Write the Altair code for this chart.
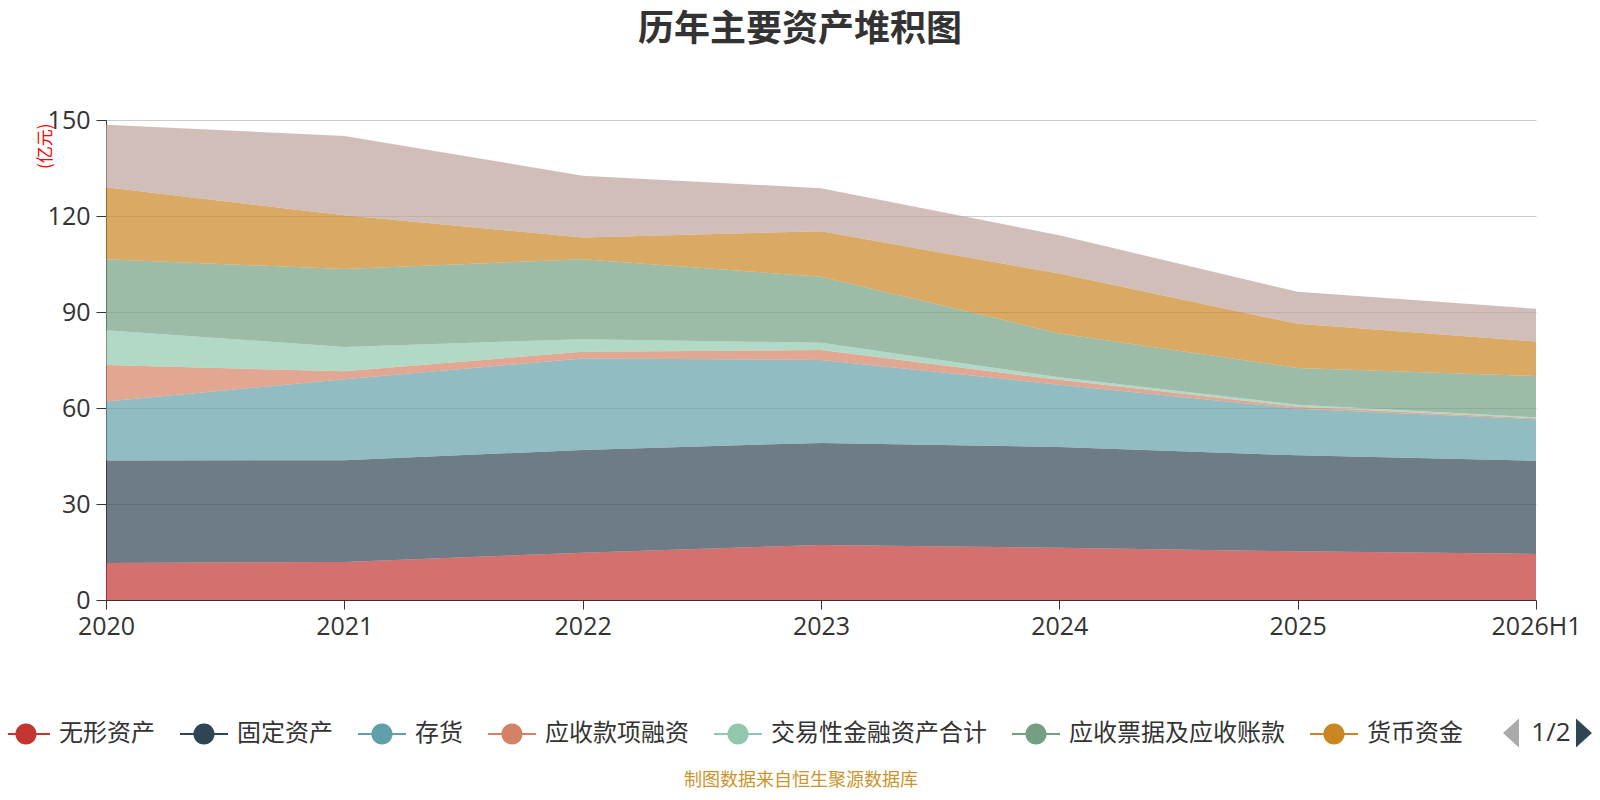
import altair as alt
import pandas as pd

years = ["2020", "2021", "2022", "2023", "2024", "2025", "2026H1"]
names = ["无形资产", "固定资产", "存货", "应收款项融资", "交易性金融资产合计",
         "应收票据及应收账款", "货币资金", "其他资产"]
colors = ["#c23531", "#2f4554", "#61a0a8", "#d48265", "#91c7ae",
          "#749f83", "#ca8622", "#bda29a"]

intangible = [11.6, 11.9, 14.8, 17.2, 16.3, 15.2, 14.4]
fixed = [32.0, 31.8, 32.1, 31.9, 31.5, 30.0, 29.1]
inventory = [18.4, 25.3, 28.6, 25.9, 19.5, 14.6, 13.0]
financing = [11.4, 2.5, 2.1, 3.1, 1.5, 0.6, 0.3]
trading = [10.9, 7.6, 3.9, 2.3, 0.8, 0.6, 0.3]
receivables = [22.2, 24.3, 25.0, 20.6, 13.7, 11.5, 12.9]
cash = [22.5, 16.8, 6.8, 14.2, 18.7, 13.8, 10.8]
other = [19.5, 24.8, 19.3, 13.5, 12.0, 10.0, 10.2]

series = [intangible, fixed, inventory, financing, trading, receivables, cash, other]
y_ticks = [0, 30, 60, 90, 120, 150]

title_text = "历年主要资产堆积图"
unit_text = "(亿元)"
footer_text = "制图数据来自恒生聚源数据库"
page_text = "1/2"

rows = []
for i, (nm, vals) in enumerate(zip(names, series)):
    for yr, v in zip(years, vals):
        rows.append({"year": yr, "name": nm, "value": v, "idx": i})
df = pd.DataFrame(rows)

FONT = "Noto Sans CJK SC"
NUM_FONT = "Open Sans"
sym_path = ("M-1,-0.045L1,-0.045L1,0.045L-1,0.045Z "
            "M0.44,0A0.44,0.44 0 1,1 -0.44,0A0.44,0.44 0 1,1 0.44,0Z")

area = alt.Chart(df).mark_area(opacity=0.7).encode(
    x=alt.X("year:O", sort=years, scale=alt.Scale(type="point", padding=0),
            axis=alt.Axis(title=None, labelAngle=0, labelFontSize=25, labelColor="#333333",
                          labelFont=NUM_FONT, domainColor="#333333", domainWidth=1,
                          tickColor="#333333", tickSize=9, tickWidth=1,
                          labelPadding=5, grid=False)),
    y=alt.Y("value:Q", stack="zero", scale=alt.Scale(domain=[0, 150], nice=False),
            axis=alt.Axis(values=y_ticks, title=unit_text, titleColor="#ff0000",
                          titleFontSize=17, titleFontWeight="normal", titleFont=FONT,
                          titleAngle=270, titleAlign="right", titleBaseline="middle",
                          titleX=-61, titleY=3,
                          labelFontSize=25, labelColor="#333333", labelFont=NUM_FONT,
                          labelPadding=6, domainColor="#333333", domainWidth=1,
                          tickColor="#333333", tickSize=10, tickWidth=1,
                          gridColor="#cccccc", gridWidth=1)),
    color=alt.Color("name:N", sort=names,
                    scale=alt.Scale(domain=names, range=colors),
                    legend=alt.Legend(title=None, orient="none", direction="horizontal",
                                      legendX=-104, legendY=590, values=names[:7],
                                      symbolType=sym_path, symbolSize=2304,
                                      symbolOpacity=1, symbolStrokeWidth=0,
                                      labelFontSize=24, labelFont=FONT,
                                      labelColor="#333333", labelOffset=9,
                                      columnPadding=25, labelLimit=400)),
    order=alt.Order("idx:Q", sort="ascending"),
)

footer = alt.Chart(pd.DataFrame({"t": [footer_text]})).mark_text(
    fontSize=18, font=FONT, color="#c9952b", align="center", baseline="middle"
).encode(text="t:N", x=alt.value(695), y=alt.value(661))

pager = alt.Chart(pd.DataFrame({"t": [page_text]})).mark_text(
    fontSize=26, font=NUM_FONT, color="#333333", align="center", baseline="middle"
).encode(text="t:N", x=alt.value(1445), y=alt.value(613))

tri_left = alt.Chart(pd.DataFrame({"t": [0]})).mark_point(
    shape="M0.55,-1L-0.55,0L0.55,1Z", size=840, filled=True, color="#aaaaaa", opacity=1
).encode(x=alt.value(1405), y=alt.value(613))

tri_right = alt.Chart(pd.DataFrame({"t": [0]})).mark_point(
    shape="M-0.55,-1L0.55,0L-0.55,1Z", size=840, filled=True, color="#2f4554", opacity=1
).encode(x=alt.value(1478), y=alt.value(613))

chart = alt.layer(area, footer, pager, tri_left, tri_right).properties(
    width=1430, height=480,
    autosize=alt.AutoSizeParams(type="none"),
    padding={"left": 98, "top": 112, "right": 56, "bottom": 192},
    title=alt.TitleParams(title_text, fontSize=36, fontWeight="bold", color="#333333",
                          font=FONT, anchor="middle", frame="group", dx=-21, offset=59),
).configure_view(stroke=None)

chart.save("out.html", embed_options={"renderer": "svg", "actions": False})
